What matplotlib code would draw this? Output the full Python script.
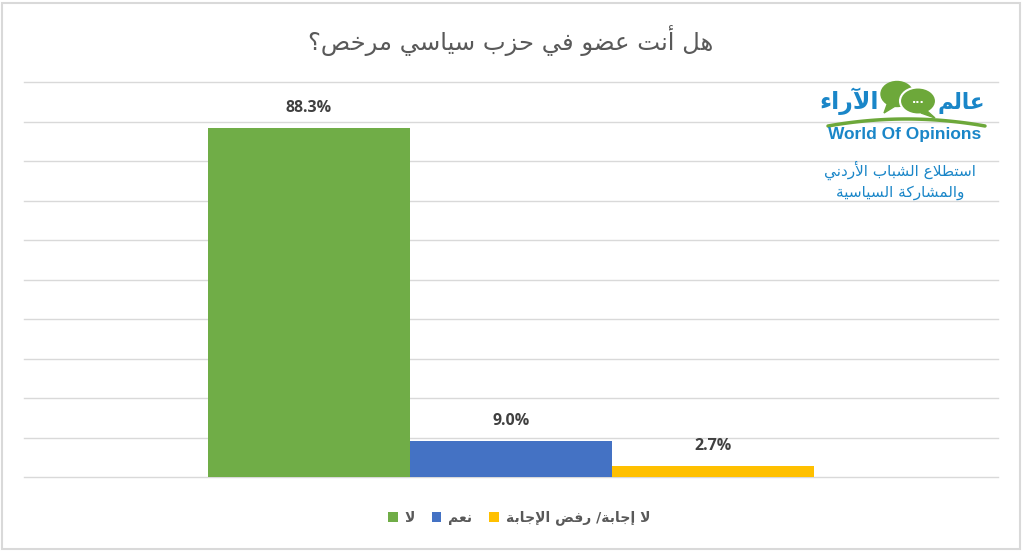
import numpy as np
import matplotlib
matplotlib.use('Agg')
import matplotlib.pyplot as plt
from matplotlib.patches import Ellipse, Polygon, Rectangle

# chart data
title = 'هل أنت عضو في حزب سياسي مرخص؟'
categories = ['لا', 'نعم', 'لا إجابة/ رفض الإجابة']
values = [88.3, 9.0, 2.7]
colors = ['#70AD47', '#4472C4', '#FFC000']
logo_ar = ['عالم', 'الآراء']
logo_en = 'World Of Opinions'
subtitle = ['استطلاع الشباب الأردني', 'والمشاركة السياسية']

# matplotlib has no arabic shaping, so pick presentation forms by hand
# (isolated, final, initial, medial)
FORMS = {
    'ء': ('\uFE80',),
    'آ': ('\uFE81', '\uFE82'), 'أ': ('\uFE83', '\uFE84'),
    'إ': ('\uFE87', '\uFE88'), 'ا': ('\uFE8D', '\uFE8E'),
    'ب': ('\uFE8F', '\uFE90', '\uFE91', '\uFE92'),
    'ة': ('\uFE93', '\uFE94'),
    'ت': ('\uFE95', '\uFE96', '\uFE97', '\uFE98'),
    'ج': ('\uFE9D', '\uFE9E', '\uFE9F', '\uFEA0'),
    'ح': ('\uFEA1', '\uFEA2', '\uFEA3', '\uFEA4'),
    'خ': ('\uFEA5', '\uFEA6', '\uFEA7', '\uFEA8'),
    'د': ('\uFEA9', '\uFEAA'), 'ر': ('\uFEAD', '\uFEAE'),
    'ز': ('\uFEAF', '\uFEB0'),
    'س': ('\uFEB1', '\uFEB2', '\uFEB3', '\uFEB4'),
    'ش': ('\uFEB5', '\uFEB6', '\uFEB7', '\uFEB8'),
    'ص': ('\uFEB9', '\uFEBA', '\uFEBB', '\uFEBC'),
    'ض': ('\uFEBD', '\uFEBE', '\uFEBF', '\uFEC0'),
    'ط': ('\uFEC1', '\uFEC2', '\uFEC3', '\uFEC4'),
    'ع': ('\uFEC9', '\uFECA', '\uFECB', '\uFECC'),
    'ف': ('\uFED1', '\uFED2', '\uFED3', '\uFED4'),
    'ك': ('\uFED9', '\uFEDA', '\uFEDB', '\uFEDC'),
    'ل': ('\uFEDD', '\uFEDE', '\uFEDF', '\uFEE0'),
    'م': ('\uFEE1', '\uFEE2', '\uFEE3', '\uFEE4'),
    'ن': ('\uFEE5', '\uFEE6', '\uFEE7', '\uFEE8'),
    'ه': ('\uFEE9', '\uFEEA', '\uFEEB', '\uFEEC'),
    'و': ('\uFEED', '\uFEEE'),
    'ي': ('\uFEF1', '\uFEF2', '\uFEF3', '\uFEF4'),
}
LAM_ALEF = {'آ': ('\uFEF5', '\uFEF6'), 'أ': ('\uFEF7', '\uFEF8'),
            'إ': ('\uFEF9', '\uFEFA'), 'ا': ('\uFEFB', '\uFEFC')}


def dual(c):
    return c in FORMS and len(FORMS[c]) == 4


def shape(txt):
    out = []
    i = 0
    while i < len(txt):
        c = txt[i]
        if c not in FORMS:
            out.append(c)
            i += 1
            continue
        prev = txt[i - 1] if i > 0 else ''
        nxt = txt[i + 1] if i + 1 < len(txt) else ''
        if c == 'ل' and nxt in LAM_ALEF:
            out.append(LAM_ALEF[nxt][1 if dual(prev) else 0])
            i += 2
            continue
        f = FORMS[c]
        lp = dual(prev) and len(f) > 1
        ln = dual(c) and nxt in FORMS
        if lp and ln:
            g = f[3]
        elif lp:
            g = f[1]
        elif ln:
            g = f[2]
        else:
            g = f[0]
        out.append(g)
        i += 1
    return ''.join(out)[::-1]


AR = ['DejaVu Sans']
NUM = ['Open Sans', 'DejaVu Sans']
grey = '#595959'
blue = '#1A86C8'
green = '#6DA83A'

fig = plt.figure(figsize=(10.24, 5.52), dpi=100)
fig.patch.set_facecolor('white')
fig.patches.append(Rectangle((2 / 1024, 3 / 552), 1018 / 1024, 546 / 552,
                             transform=fig.transFigure, fill=False,
                             edgecolor='#D9D9D9', lw=1.5))

ax = fig.add_axes([24 / 1024, 75 / 552, 974 / 1024, 395 / 552])
x = np.arange(len(values))
bars = ax.bar(x, values, width=1.0, color=colors, zorder=2)
half = 974 / 607 * 3 / 2
ax.set_xlim(1 - half, 1 + half)
ax.set_ylim(0, 100)
ax.set_yticks(np.arange(0, 101, 10))
ax.grid(axis='y', color='#D9D9D9', lw=1, zorder=0)
for gl in ax.get_ygridlines():
    gl.set_clip_on(False)
ax.tick_params(left=False, bottom=False, labelleft=False, labelbottom=False)
for s in ax.spines.values():
    s.set_visible(False)
ax.bar_label(bars, labels=[f'{v:.1f}%' for v in values], padding=9,
             fontsize=11.5, fontweight='bold', color='#404040', family=NUM)

fig.text(511 / 1024, 1 - 40 / 552, shape(title), ha='center', va='center',
         fontsize=17.5, color=grey, family=AR)

leg = fig.legend(bars, [shape(c) for c in categories], loc='center',
                 bbox_to_anchor=(519 / 1024, 1 - 518 / 552), ncol=3,
                 frameon=False, handlelength=0.7, handleheight=0.7,
                 handletextpad=0.5, columnspacing=1.2,
                 prop={'family': AR, 'size': 10, 'weight': 'bold'})
for t in leg.get_texts():
    t.set_color(grey)

# logo, drawn in pixel coordinates
lg = fig.add_axes([0, 0, 1, 1], zorder=5)
lg.set_xlim(0, 1024)
lg.set_ylim(552, 0)
lg.axis('off')
lg.patch.set_alpha(0)
lg.add_patch(Ellipse((897, 94), 32, 25, color=green))
lg.add_patch(Polygon([[888, 102], [884, 113], [897, 105]], color=green))
lg.add_patch(Ellipse((918, 101), 36, 27, color=green, ec='white', lw=1.5))
lg.add_patch(Polygon([[926, 110], [935, 118], [921, 113]], color=green))
lg.text(918, 100, '...', ha='center', va='center', color='white',
        fontsize=8, fontweight='bold')
lg.text(985, 103, shape(logo_ar[0]), ha='right', va='center', color=blue,
        fontsize=15.5, fontweight='bold', family=AR)
lg.text(820, 101, shape(logo_ar[1]), ha='left', va='center', color=blue,
        fontsize=17, fontweight='bold', family=AR)
t = np.linspace(0, 1, 50)
lg.plot(828 + 157 * t, 126 - 28 * t * (1 - t), color=green, lw=2.5,
        solid_capstyle='round')
lg.text(905, 135, logo_en, ha='center', va='center', color=blue,
        fontsize=12.5, fontweight='bold', family=['Liberation Sans'])
lg.text(900, 170, shape(subtitle[0]), ha='center', va='center', color=blue,
        fontsize=11, family=AR)
lg.text(900, 192, shape(subtitle[1]), ha='center', va='center', color=blue,
        fontsize=11, family=AR)

fig.savefig('out.png', dpi=100, facecolor='white')
